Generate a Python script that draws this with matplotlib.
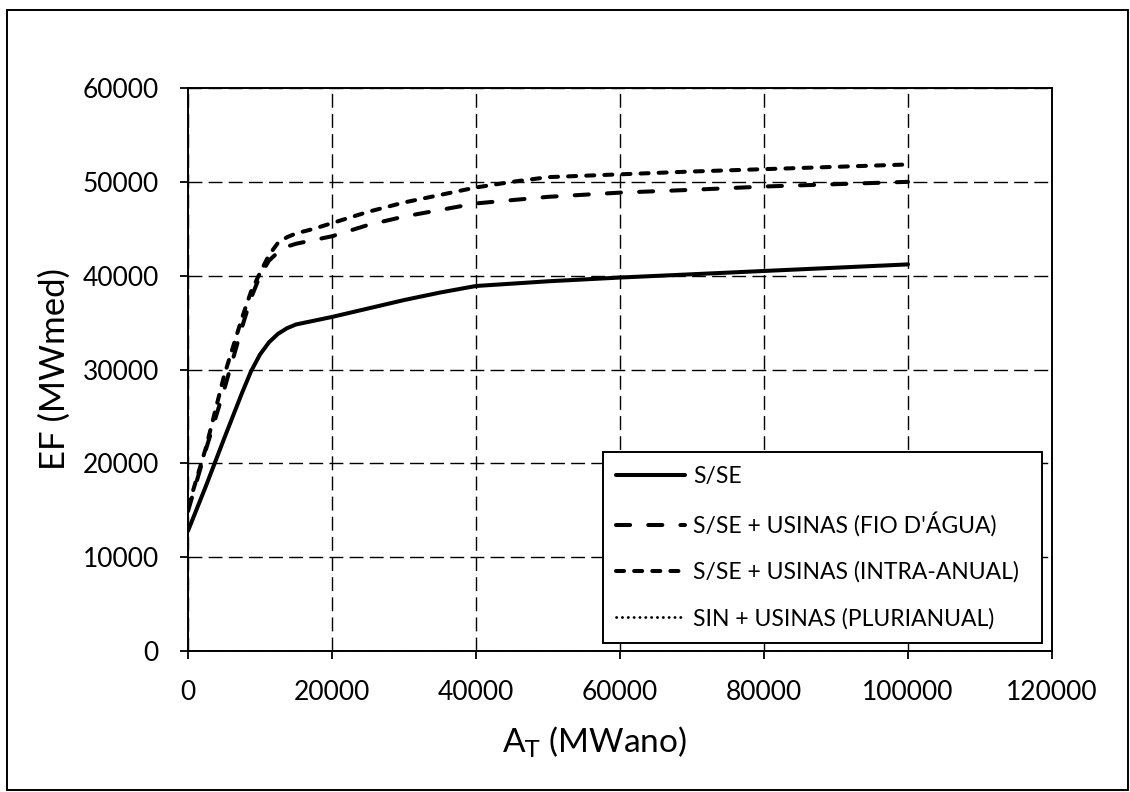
import matplotlib
matplotlib.use("Agg")
import matplotlib.pyplot as plt
from matplotlib.patches import Rectangle

plt.rcParams['font.family'] = ['Lato', 'DejaVu Sans']

# armazenamento total (MWano) x energia firme (MWmed)
at_sse = [0, 2500, 5000, 7500, 8750, 10000, 11250, 12500, 13750, 15000, 17500, 20000, 25000,
          30000, 35000, 40000, 50000, 60000, 70000, 80000, 90000, 100000]
ef_sse = [12800, 17600, 22600, 27500, 29800, 31600, 32900, 33800, 34400, 34800, 35200, 35600, 36500,
          37400, 38200, 38900, 39400, 39800, 40150, 40500, 40850, 41200]

at_fio = [0, 2500, 5000, 7500, 8750, 10000, 11250, 12500, 13750, 15000, 17500, 20000, 25000,
          30000, 40000, 50000, 60000, 70000, 80000, 90000, 100000]
ef_fio = [14900, 21500, 27800, 34500, 37600, 40000, 41600, 42500, 43100, 43400, 43800, 44200, 45400,
          46300, 47700, 48400, 48850, 49150, 49500, 49750, 50000]

at_intra = [0, 2500, 5000, 7500, 8750, 10000, 11250, 12500, 13750, 15000, 17500, 20000, 25000,
            30000, 40000, 45000, 50000, 60000, 70000, 80000, 90000, 100000]
ef_intra = [15300, 21700, 29300, 35500, 38300, 40300, 42200, 43500, 44100, 44500, 45000, 45600, 46800,
            47800, 49400, 50000, 50500, 50800, 51100, 51350, 51600, 51850]

# serie plurianual nao aparece no grafico, so na legenda
at_pluri = []
ef_pluri = []

labels = ["S/SE", "S/SE + USINAS (FIO D'ÁGUA)", "S/SE + USINAS (INTRA-ANUAL)", "SIN + USINAS (PLURIANUAL)"]
xticks = [0, 20000, 40000, 60000, 80000, 100000, 120000]
yticks = [0, 10000, 20000, 30000, 40000, 50000, 60000]

fig = plt.figure(figsize=(11.3, 7.92), dpi=100)
ax = fig.add_axes([188/1130, 1 - 651/792, 864/1130, 563/792])

ax.plot(at_sse, ef_sse, color="black", lw=2.9, solid_capstyle="round", solid_joinstyle="round",
        label=labels[0])
ax.plot(at_fio, ef_fio, color="black", lw=2.9, linestyle=(0, (3.5, 4.5)),
        dash_capstyle="round", label=labels[1])
ax.plot(at_intra, ef_intra, color="black", lw=2.9, linestyle=(0, (2.0, 2.5)),
        dash_capstyle="round", label=labels[2])
ax.plot(at_pluri, ef_pluri, color="black", lw=2.0, linestyle=(0, (0.1, 2.0)),
        dash_capstyle="round", label=labels[3])

ax.set_xlim(0, 120000)
ax.set_ylim(0, 60000)
ax.set_xticks(xticks)
ax.set_yticks(yticks)
ax.grid(True, color="black", lw=1.0, linestyle=(0, (10, 4.5)))
ax.set_axisbelow(True)
for s in ax.spines.values():
    s.set_linewidth(1.4)
ax.tick_params(direction="out", length=6, width=1.3, labelsize=19, pad=15)

ax.set_xlabel("A$_\\mathrm{T}$ (MWano)", fontsize=24)
ax.xaxis.set_label_coords(406/864, -0.13)
ax.set_ylabel("EF (MWmed)", fontsize=25)
ax.yaxis.set_label_coords(-0.135, 0.5)

leg = ax.legend(loc="upper left", bbox_to_anchor=(0.48, 0.353, 0.508, 0.0), mode="expand",
                fontsize=16.5, handlelength=3.0, handletextpad=0.35, labelspacing=1.08,
                borderpad=0.6, borderaxespad=0, fancybox=False, framealpha=1)
leg.get_frame().set_edgecolor("black")
leg.get_frame().set_linewidth(1.4)

fig.patches.append(Rectangle((7/1130, 2/792), 1121/1130, 780/792, transform=fig.transFigure,
                             fill=False, edgecolor="black", lw=1.4))

fig.savefig("out.png", dpi=100)
